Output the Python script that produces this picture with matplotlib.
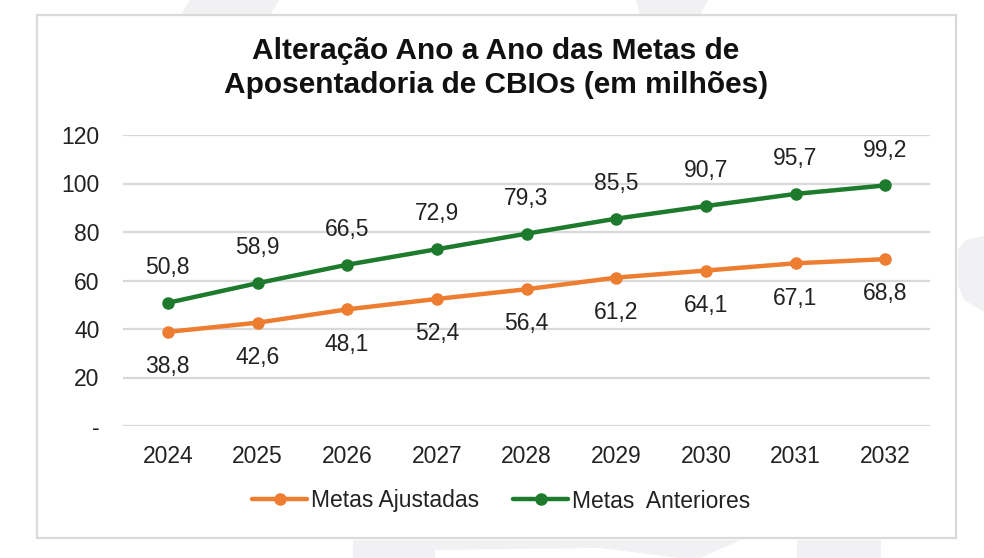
import matplotlib
matplotlib.use("Agg")
import matplotlib.pyplot as plt
from matplotlib.patches import Polygon, Rectangle

plt.rcParams['font.family'] = ['Liberation Sans', 'DejaVu Sans']

years = ["2024", "2025", "2026", "2027", "2028", "2029", "2030", "2031", "2032"]
metas_ajustadas = [38.8, 42.6, 48.1, 52.4, 56.4, 61.2, 64.1, 67.1, 68.8]
metas_anteriores = [50.8, 58.9, 66.5, 72.9, 79.3, 85.5, 90.7, 95.7, 99.2]
yticks = [0, 20, 40, 60, 80, 100, 120]
ytick_labels = ["-", "20", "40", "60", "80", "100", "120"]

W, H = 984, 558
fig = plt.figure(figsize=(W / 100, H / 100), dpi=100)
fig.patch.set_facecolor('white')

def px(x, y):
    return (x / W, 1 - y / H)

# faint background watermark shapes
wm = '#f1f1f3'
shapes = [
    [(190, 0), (279, 0), (270, 15), (181, 15)],
    [(636, 0), (708, 0), (700, 15), (640, 15)],
    [(353, 540), (741, 540), (700, 558), (353, 558)],
    [(797, 540), (881, 540), (881, 558), (797, 558)],
    [(984, 236), (966, 240), (958, 250), (958, 285), (964, 300), (984, 312)],
]
for s in shapes:
    fig.patches.append(Polygon([px(*p) for p in s], closed=True,
                               transform=fig.transFigure, facecolor=wm,
                               edgecolor='none', zorder=0))
fig.patches.append(Polygon([px(*p) for p in [(435, 550), (600, 548), (680, 558), (435, 558)]],
                           closed=True, transform=fig.transFigure,
                           facecolor='white', edgecolor='none', zorder=0))

# chart box
x0, y0 = px(37, 538)
x1, y1 = px(956, 15)
fig.patches.append(Rectangle((x0, y0), x1 - x0, y1 - y0, transform=fig.transFigure,
                             facecolor='white', edgecolor='#dadada', linewidth=1.6,
                             zorder=1))

ax = fig.add_axes([123 / W, 1 - 426 / H, (930 - 123) / W, (426 - 135) / H])
ax.set_facecolor('none')
ax.set_zorder(2)

x = list(range(len(years)))
orange = '#ED7D31'
green = '#1E7A2C'
ax.plot(x, metas_ajustadas, color=orange, lw=3.2, marker='o', ms=8,
        label='Metas Ajustadas', zorder=3, solid_capstyle='round')
ax.plot(x, metas_anteriores, color=green, lw=3.2, marker='o', ms=8,
        label='Metas  Anteriores', zorder=3, solid_capstyle='round')

for xi, v in zip(x, metas_anteriores):
    ax.annotate(f"{v:.1f}".replace('.', ','), (xi, v), xytext=(0, 25.5),
                textcoords='offset points', ha='center', va='center',
                fontsize=16.5, color='#222222')
for xi, v in zip(x, metas_ajustadas):
    ax.annotate(f"{v:.1f}".replace('.', ','), (xi, v), xytext=(0, -25),
                textcoords='offset points', ha='center', va='center',
                fontsize=16.5, color='#222222')

ax.set_xlim(-0.5, len(years) - 0.5)
ax.set_ylim(0, 120)
ax.set_yticks(yticks)
ax.set_yticklabels(ytick_labels)
ax.set_xticks(x)
ax.set_xticklabels(years)
ax.yaxis.grid(True, color='#d9d9d9', lw=1.6)
ax.set_axisbelow(True)
for sp in ax.spines.values():
    sp.set_visible(False)
ax.tick_params(axis='both', length=0, labelsize=16.5, labelcolor='#222222')
ax.tick_params(axis='y', pad=17)
ax.tick_params(axis='x', pad=14)

fig.text(496 / W, 1 - 68 / H, "Alteração Ano a Ano das Metas de\nAposentadoria de CBIOs (em milhões)",
         ha='center', va='center', fontsize=21.5, fontweight='bold',
         linespacing=1.25, color='#111111', zorder=5)

leg = fig.legend(loc='center', bbox_to_anchor=(501 / W, 1 - 501 / H), ncol=2,
                 frameon=False, fontsize=16.5, handlelength=2.4,
                 handletextpad=0.15, columnspacing=1.5)
for t in leg.get_texts():
    t.set_color('#222222')

fig.savefig('out.png', dpi=100, facecolor='white')
